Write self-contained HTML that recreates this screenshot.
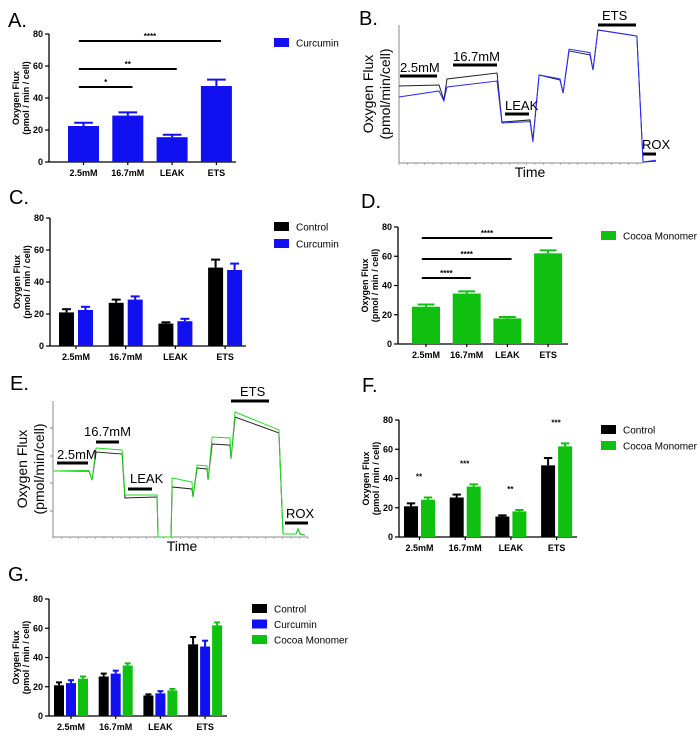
<!DOCTYPE html>
<html><head><meta charset="utf-8"><style>
html,body{margin:0;padding:0;background:#fff;}
svg{display:block;font-family:"Liberation Sans",Arial,sans-serif;}
.tk{font-size:9px;font-weight:bold;}
.yt{font-size:9px;font-weight:bold;}
.lg{font-size:10px;}
.pl{font-size:20px;}
.tr{font-size:13px;}
</style></head><body>
<svg id="fig" width="700" height="739" viewBox="0 0 700 739">
<text class="pl" x="8" y="27">A.</text>
<text class="pl" x="359" y="25">B.</text>
<text class="pl" x="9" y="204">C.</text>
<text class="pl" x="361" y="208">D.</text>
<text class="pl" x="10" y="390">E.</text>
<text class="pl" x="362" y="392">F.</text>
<text class="pl" x="8" y="581">G.</text>
</svg>
<script>
// ---- data ----
const categories = ["2.5mM","16.7mM","LEAK","ETS"];
const controlMeans = [21, 27, 14, 49];
const controlErr = [2, 2, 0.8, 5];
const curcuminMeans = [22.5, 29, 15.5, 47.5];
const curcuminErr = [2, 2, 1.5, 4];
const cocoaMeans = [25.5, 34.5, 17.5, 62];
const cocoaErr = [1.5, 1.5, 1, 2];
const yTicks = [0, 20, 40, 60, 80];
const sigA = [["*",0,1],["**",0,2],["****",0,3]];
const sigD = [["****",0,1],["****",0,2],["****",0,3]];
const sigF = ["**","***","**","***"];
// trace B (time 0-100, flux 0-100 relative)
const bTime = [0,15.5,17.4,18.6,38,39.9,50.8,51.9,54.3,62.4,63.6,65.9,74,75.2,77.1,92.2,94.6,99.6];
const bControl = [55.8,56.5,45.7,60.9,65.2,29.7,31.2,16.7,63.8,60.1,50.7,81.2,78.3,67.4,96.4,92,0.7,1.4];
const bCurcumin = [47.8,52.2,44.9,55.1,59.4,29,30,15.2,63.8,61,50.7,82.5,80,67.4,96.4,92,0.7,2];
// trace E
const eTime = [0,14.1,15.3,16.9,27.1,28.2,40.8,41.2,46.3,46.7,54.5,54.9,56.5,60.4,60.8,62.4,69.4,69.8,71.4,88.6,90.2,95.3,96.1,96.9,98.8];
const eControl = [48.5,48.5,41.9,62.5,61,28.7,29.4,0,0,36.8,35.3,29.4,50.7,50,41.9,68.4,67.6,57.4,88.2,76.5,2.2,2.2,5.9,2.2,1.5];
const eCocoa = [48.5,49,41.9,65.4,64,30.9,30.9,0,0,43.4,40.4,29.4,52.9,52.2,41.9,73.5,72.8,57.4,91.9,78.7,2.2,2.2,5.9,2.2,1.5];

const NS="http://www.w3.org/2000/svg";
const svg=document.getElementById('fig');
function mk(tag,attrs,parent){const e=document.createElementNS(NS,tag);for(const k in attrs)e.setAttribute(k,attrs[k]);(parent||svg).appendChild(e);return e;}

function barChart(o){
  const g=mk('g',{});
  
  
  const ys=v=>o.y0-(o.y0-o.y80)*v/80;
  const ax=mk('line',{x1:o.ax,y1:o.y80,x2:o.ax,y2:o.y0,stroke:'#000','stroke-width':1.3},g);
  
  
  const xa=mk('line',{x1:o.ax,y1:o.y0,x2:o.xEnd,y2:o.y0,stroke:'#000','stroke-width':1.3},g);
  
  
  yTicks.forEach(t=>{
    mk('line',{x1:o.ax-4,x2:o.ax,y1:ys(t),y2:ys(t),stroke:'#000','stroke-width':1.2},g);
    const tx=mk('text',{x:o.ax-6,y:ys(t)+3,'text-anchor':'end',class:'tk'},g);
    tx.textContent=t;
    
    
  });
  const mid=(o.y0+o.y80)/2;
  const t1=mk('text',{x:0,y:0,'text-anchor':'middle',class:'yt',transform:`translate(${o.ax-30},${mid}) rotate(-90)`},g);
  t1.textContent='Oxygen Flux';
  
  
  const t2=mk('text',{x:0,y:0,'text-anchor':'middle',class:'yt',transform:`translate(${o.ax-20},${mid}) rotate(-90)`},g);
  t2.textContent='(pmol / min / cell)';
  
  
  const ns=o.series.length;
  const gw=o.bw*ns+(o.off-o.bw)*(ns-1);
  categories.forEach((c,i)=>{
    const gx=o.start+i*o.step;
    const cx=gx+gw/2;
    mk('line',{x1:cx,x2:cx,y1:o.y0,y2:o.y0+3,stroke:'#000','stroke-width':1.2},g);
    const tl=mk('text',{x:cx,y:o.y0+14,'text-anchor':'middle',class:'tk'},g);
    tl.textContent=c;
    
    
    o.series.forEach((s,j)=>{
      const x=gx+j*o.off, v=s.m[i], e=s.e[i];
      const r=mk('rect',{x:x,y:ys(v),width:o.bw,height:o.y0-ys(v),fill:s.c},g);
      
      
      mk('line',{x1:x+o.bw/2,x2:x+o.bw/2,y1:ys(v),y2:ys(v+e),stroke:s.c,'stroke-width':2},g);
      mk('line',{x1:x+o.bw*0.2,x2:x+o.bw*0.8,y1:ys(v+e),y2:ys(v+e),stroke:s.c,'stroke-width':2},g);
    });
  });
  o.legend.forEach((s,k)=>{
    const ly=o.ly+k*o.lstep;
    const lr=mk('rect',{x:o.lx,y:ly,width:15,height:9,fill:s.c},g);
    
    
    const lt=mk('text',{x:o.lx+22,y:ly+8.5,class:'lg'},g);
    lt.textContent=s.label;
    
    
  });
  return {g,ys};
}
const CTRL={n:'control',label:'Control',c:'#000',m:controlMeans,e:controlErr};
const CUR={n:'curcumin',label:'Curcumin',c:'#1010f0',m:curcuminMeans,e:curcuminErr};
const COC={n:'cocoa',label:'Cocoa Monomer',c:'#10c010',m:cocoaMeans,e:cocoaErr};

function sigBars(ch,o,list,ys){
  list.forEach(s=>{
    const x1=o.start+s[1]*o.step+o.bw*0.35, x2=o.start+s[2]*o.step+o.bw*0.65;
    const y=ys[s===list[0]?0:(s===list[1]?1:2)];
    const l=mk('line',{x1:x1,x2:x2,y1:y,y2:y,stroke:'#000','stroke-width':2},ch.g);
    
    
    const t=mk('text',{x:(x1+x2)/2,y:y-2,'text-anchor':'middle',style:'font-size:8px;font-weight:bold'},ch.g);
    t.textContent=s[0];
    
    
  });
}

const oA={name:'chart-a',ax:49,y0:162,y80:34,xEnd:236,start:68,step:44.3,bw:31,off:0,series:[CUR],legend:[CUR],lx:274,ly:38,lstep:16};
const A=barChart(oA); sigBars(A,oA,sigA,[87,69,41]);
barChart({name:'chart-c',ax:50,y0:346,y80:218,xEnd:246,start:59,step:49.7,bw:15,off:19,series:[CTRL,CUR],legend:[CTRL,CUR],lx:274,ly:222,lstep:17});
const oD={name:'chart-d',ax:398,y0:344,y80:227,xEnd:568,start:412,step:40.7,bw:28,off:0,series:[COC],legend:[COC],lx:601,ly:231,lstep:16};
const D=barChart(oD); sigBars(D,oD,sigD,[278,259,238]);
const oF={name:'chart-f',ax:399,y0:537,y80:420,xEnd:577,start:404,step:45.7,bw:14,off:17,series:[CTRL,COC],legend:[CTRL,COC],lx:601,ly:425,lstep:16};
const F=barChart(oF);
sigF.forEach((s,i)=>{
  const top=Math.max(controlMeans[i]+controlErr[i],cocoaMeans[i]+cocoaErr[i]);
  const t=mk('text',{x:oF.start+i*oF.step+15,y:F.ys(top)-18,'text-anchor':'middle',style:'font-size:8px;font-weight:bold'},F.g);
  t.textContent=s;
  
  
});
barChart({name:'chart-g',ax:49,y0:716,y80:599,xEnd:227,start:54,step:44.7,bw:10,off:12,series:[CTRL,CUR,COC],legend:[CTRL,CUR,COC],lx:252,ly:604,lstep:15.5});

function trace(o){
  const g=mk('g',{});
  
  
  const xs=t=>o.x0+(o.x1-o.x0)*t/100, ys=v=>o.y0-(o.y0-o.y1)*v/100;
  mk('line',{x1:o.x0,y1:o.yTop,x2:o.x0,y2:o.y0,stroke:'#888','stroke-width':1},g);
  mk('line',{x1:o.x0,y1:o.y0,x2:o.xEnd,y2:o.y0,stroke:'#888','stroke-width':1},g);
  for(let x=o.x0;x<=o.xEnd;x+=8.5) mk('line',{x1:x,x2:x,y1:o.y0,y2:o.y0+2,stroke:'#999','stroke-width':0.7},g);
  (o.yt||[]).forEach(y=>mk('line',{x1:o.x0-3,x2:o.x0,y1:y,y2:y,stroke:'#888','stroke-width':1},g));
  o.series.forEach(s=>{
    const p=mk('polyline',{points:o.t.map((t,i)=>xs(t)+','+ys(s.v[i])).join(' '),fill:'none',stroke:s.c,'stroke-width':1},g);
    
    
  });
  o.marks.forEach(m=>{
    const l=mk('line',{x1:m[1],x2:m[2],y1:m[3],y2:m[3],stroke:'#000','stroke-width':3},g);
    
    
    const t=mk('text',{x:m[4],y:m[5],class:'tr'},g);
    t.textContent=m[0];
    
    
  });
  const tt=mk('text',{x:o.timeX,y:o.y0+14,'text-anchor':'middle',style:'font-size:14px'},g);
  tt.textContent='Time';
  
  
  const mid=(o.y0+o.yTop)/2;
  const a=mk('text',{x:0,y:0,'text-anchor':'middle',style:'font-size:14px',transform:`translate(${o.x0-26},${mid}) rotate(-90)`},g);
  a.textContent='Oxygen Flux';
  
  
  const b=mk('text',{x:0,y:0,'text-anchor':'middle',style:'font-size:14px',transform:`translate(${o.x0-9},${mid}) rotate(-90)`},g);
  b.textContent='(pmol/min/cell)';
  
  
}
trace({name:'trace-b',x0:399,x1:657,xEnd:643,y0:163,y1:25,yTop:25,timeX:530,t:bTime,
  series:[{n:'control',c:'#222',v:bControl},{n:'curcumin',c:'#2a2aff',v:bCurcumin}],
  marks:[['2.5mM',400,437,76,400,72],['16.7mM',453,497,65,453,61],['LEAK',505,529,114,505,110],['ETS',598,636,25,602,20],['ROX',643,656,154,642,149]]});
trace({name:'trace-e',x0:53,x1:308,xEnd:308,y0:537,y1:401,yTop:401,timeX:182,t:eTime,yt:[428,456,483,511],
  series:[{n:'control',c:'#222',v:eControl},{n:'cocoa',c:'#22dd22',v:eCocoa}],
  marks:[['2.5mM',57,88,463,57,459],['16.7mM',96,119,442,84,436],['LEAK',128,152,489,130,483],['ETS',231,269,401,240,396],['ROX',285,308,523,286,518]]});
</script>
</body></html>
